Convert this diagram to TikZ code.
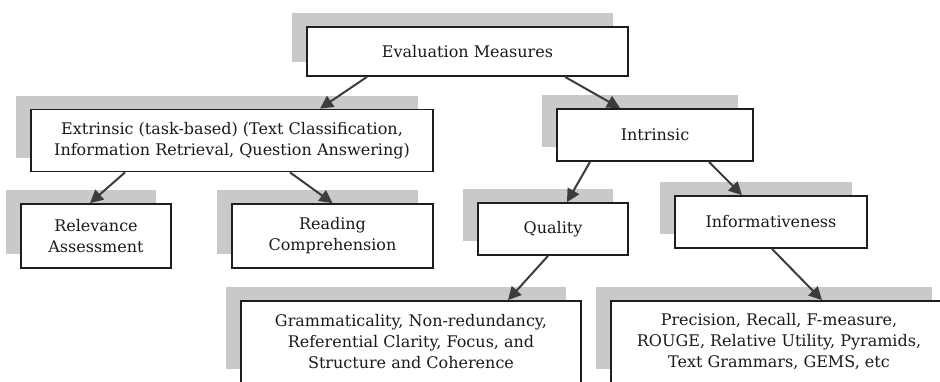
\documentclass[tikz,border=0pt]{standalone}
\usepackage{fontspec}
\setmainfont{DejaVu Serif}
\usetikzlibrary{arrows.meta,shadows}
\definecolor{shadowgray}{HTML}{C9C9C9}
\definecolor{arrowgray}{HTML}{3C3C3C}
\definecolor{boxline}{HTML}{1E1E1E}
\definecolor{textcol}{HTML}{1A1A1A}
\tikzset{
  mbox/.style={draw=boxline, line width=1.8pt, fill=white, align=center,
    inner sep=0pt, font=\fontsize{16}{21}\selectfont, text=textcol,
    general shadow={fill=shadowgray, shadow xshift=-15pt, shadow yshift=14pt}},
  conn/.style={draw=arrowgray, line width=2pt,
    -{Triangle[length=13pt,width=13pt]}}
}
\begin{document}
\begin{tikzpicture}[x=1pt,y=-1pt]
\useasboundingbox (0,0) rectangle (940,381);
\begin{scope}
\clip (0,0) rectangle (940,381);
\node[mbox, minimum width=321pt, minimum height=49pt] (eval) at (467.5,51.5) {Evaluation Measures};
\node[mbox, minimum width=402pt, minimum height=62pt] (extr) at (232,140.5) {Extrinsic (task-based) (Text Classification,\\Information Retrieval, Question Answering)};
\node[mbox, minimum width=150pt, minimum height=64pt] (rel) at (96,236) {Relevance\\Assessment};
\node[mbox, minimum width=201pt, minimum height=64pt] (read) at (332.5,236) {Reading\\Comprehension};
\node[mbox, minimum width=196pt, minimum height=52pt] (intr) at (655,135) {Intrinsic};
\node[mbox, minimum width=150pt, minimum height=52pt] (qual) at (553,229) {Quality};
\node[mbox, minimum width=192pt, minimum height=52pt] (info) at (771,222) {Informativeness};
\node[mbox, minimum width=340pt, minimum height=82pt] (gram) at (411,342) {Grammaticality, Non-redundancy,\\Referential Clarity, Focus, and\\Structure and Coherence};
\node[mbox, minimum width=336pt, minimum height=82pt] (prec) at (779,342) {Precision, Recall, F-measure,\\ROUGE, Relative Utility, Pyramids,\\Text Grammars, GEMS, etc};
\draw[conn] ([xshift=-100.5pt]eval.south) -- ([xshift=88pt]extr.north);
\draw[conn] ([xshift=97.5pt]eval.south) -- ([xshift=-35pt]intr.north);
\draw[conn] ([xshift=-107pt]extr.south) -- ([xshift=-6pt]rel.north);
\draw[conn] ([xshift=58pt]extr.south) -- ([xshift=0pt]read.north);
\draw[conn] ([xshift=-65pt]intr.south) -- ([xshift=14pt]qual.north);
\draw[conn] ([xshift=54pt]intr.south) -- ([xshift=-29pt]info.north);
\draw[conn] ([xshift=-5pt]qual.south) -- ([xshift=97pt]gram.north);
\draw[conn] ([xshift=1pt]info.south) -- ([xshift=43pt]prec.north);
\end{scope}
\end{tikzpicture}
\end{document}
